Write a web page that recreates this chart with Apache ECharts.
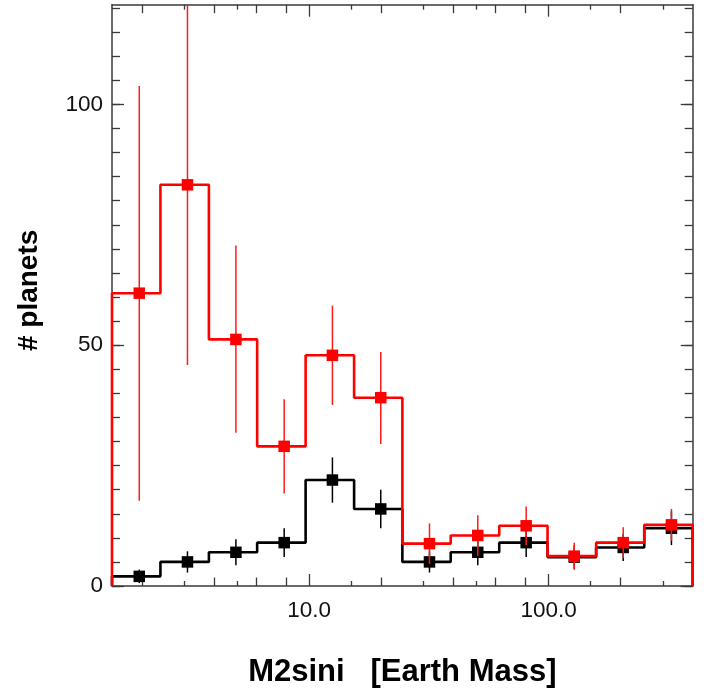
<!DOCTYPE html>
<html><head><meta charset="utf-8">
<script src="https://cdn.jsdelivr.net/npm/echarts@6/dist/echarts.min.js"></script>
<style>html,body{margin:0;padding:0;background:#fff}#c{width:713px;height:693px}</style>
</head><body><div id="c"></div>
<script>
// ---- data ----
const binEdges   = [1.5, 2.39, 3.81, 6.06, 9.66, 15.4, 24.5, 39.0, 62.2, 99.0, 158, 251, 400];
const binCenters = [1.95, 3.10, 4.94, 7.86, 12.5, 19.9, 31.8, 50.6, 80.6, 128, 205, 326];

const redValues  = [60.8, 83.3, 51.2, 29.0, 47.9, 39.1, 8.8, 10.5, 12.5, 6.2, 9.0, 12.7];
const redLow     = [17.7, 45.9, 31.8, 19.2, 37.6, 29.5, 4.6, 6.3, 8.5, 3.4, 5.8, 9.4];
const redHigh    = [103.8, 120.7, 70.7, 38.8, 58.2, 48.6, 13.0, 14.7, 16.5, 9.0, 12.2, 16.0];

const blackValues = [2, 5, 7, 9, 22, 16, 5, 7, 9, 6, 8, 12];
const blackLow    = [0.6, 2.8, 4.3, 6.0, 17.3, 12.0, 2.8, 4.3, 6.0, 3.6, 5.2, 8.5];
const blackHigh   = [3.4, 7.2, 9.7, 12.0, 26.7, 20.0, 7.2, 9.7, 12.0, 8.4, 10.8, 15.5];

const xMajorTicks = [10, 100];
const xMidTicks   = [2, 4, 6, 8, 20, 40, 60, 80, 200];
const xShortTicks = [3, 5, 15, 30, 50, 150, 300];
const yLabelTicks = [0, 50, 100];
const yMinorTicks = [0,5,10,15,20,25,30,35,40,45,50,55,60,65,70,75,80,85,90,95,100,105,110,115,120];
const yMax = 120.7;

// ---- build ----
const FONT = 'Liberation Sans, Arial, Helvetica, sans-serif';
const AX = '#3a3a3a';

function stepData(values) {
  const pts = [[binEdges[0], 0]];
  for (let i = 0; i < values.length; i++) pts.push([binEdges[i], values[i]]);
  pts.push([binEdges[binEdges.length - 1], values[values.length - 1]]);
  pts.push([binEdges[binEdges.length - 1], 0]);
  return pts;
}
function errData(low, high) {
  return binCenters.map((c, i) => [c, low[i], high[i]]);
}
function markData(values) {
  return binCenters.map((c, i) => [c, values[i]]);
}

function xAx(pos, ticks, len, main) {
  return {
    type: 'log', position: pos, min: binEdges[0], max: binEdges[binEdges.length - 1],
    axisLine: { show: main, onZero: false, lineStyle: { color: AX, width: 1.5 } },
    axisTick: { show: true, inside: true, length: len, customValues: ticks, lineStyle: { color: AX, width: 1.3 } },
    axisLabel: { show: main && pos === 'bottom', customValues: xMajorTicks, margin: 13,
      formatter: v => Number(v).toFixed(1), color: '#111', fontSize: 22.5, fontFamily: FONT },
    splitLine: { show: false }, minorTick: { show: false },
    name: (main && pos === 'bottom') ? 'M2sini   [Earth Mass]' : '',
    nameLocation: 'middle', nameGap: 71,
    nameTextStyle: { fontSize: 31, fontWeight: 'bold', color: '#000', fontFamily: FONT }
  };
}
function yAx(pos, ticks, len, main) {
  return {
    type: 'value', position: pos, min: 0, max: yMax,
    axisLine: { show: main, onZero: false, lineStyle: { color: AX, width: 1.5 } },
    axisTick: { show: true, inside: true, length: len, customValues: ticks, lineStyle: { color: AX, width: 1.3 } },
    axisLabel: { show: main && pos === 'left', customValues: yLabelTicks, margin: 9,
      color: '#111', fontSize: 22.5, fontFamily: FONT },
    splitLine: { show: false },
    name: (main && pos === 'left') ? '# planets' : '',
    nameLocation: 'middle', nameGap: 69, nameRotate: 90,
    nameTextStyle: { fontSize: 28, fontWeight: 'bold', color: '#000', fontFamily: FONT, padding: [0, 0, 0, 10] }
  };
}

function errSeries(low, high, color, z) {
  return {
    type: 'custom', xAxisIndex: 0, yAxisIndex: 0, z: z, clip: false,
    data: errData(low, high),
    renderItem: (params, api) => {
      const p1 = api.coord([api.value(0), api.value(1)]);
      const p2 = api.coord([api.value(0), api.value(2)]);
      return { type: 'line', shape: { x1: p1[0], y1: p1[1], x2: p2[0], y2: p2[1] },
        style: { stroke: color, lineWidth: 1.5 } };
    }
  };
}
function stepSeries(values, color, z) {
  return {
    type: 'line', xAxisIndex: 0, yAxisIndex: 0, step: 'end', z: z, clip: false,
    showSymbol: false, symbol: 'none', data: stepData(values),
    lineStyle: { color: color, width: 2.6 }, silent: true, animation: false
  };
}
function markSeries(values, color, z) {
  return {
    type: 'scatter', xAxisIndex: 0, yAxisIndex: 0, z: z, symbol: 'rect', symbolSize: 11.5,
    data: markData(values), itemStyle: { color: color, opacity: 1 }, animation: false
  };
}

const chart = echarts.init(document.getElementById('c'), null, { renderer: 'canvas' });
chart.setOption({
  animation: false,
  backgroundColor: '#fff',
  grid: { left: 112, right: 20.3, top: 4.7, bottom: 107, containLabel: false },
  xAxis: [
    xAx('bottom', xMajorTicks, 12, true),
    xAx('bottom', xMidTicks, 8.5, false),
    xAx('bottom', xShortTicks, 5, false),
    xAx('top', xMajorTicks, 12, true),
    xAx('top', xMidTicks, 8.5, false),
    xAx('top', xShortTicks, 5, false)
  ],
  yAxis: [
    yAx('left', yLabelTicks, 12, true),
    yAx('left', yMinorTicks, 8, false),
    yAx('right', yLabelTicks, 12, true),
    yAx('right', yMinorTicks, 8, false)
  ],
  series: [
    stepSeries(blackValues, '#000', 2),
    errSeries(blackLow, blackHigh, '#000', 3),
    markSeries(blackValues, '#000', 4),
    stepSeries(redValues, '#ff0000', 5),
    errSeries(redLow, redHigh, '#ff1a1a', 6),
    markSeries(redValues, '#ff0000', 7)
  ]
});
</script></body></html>
